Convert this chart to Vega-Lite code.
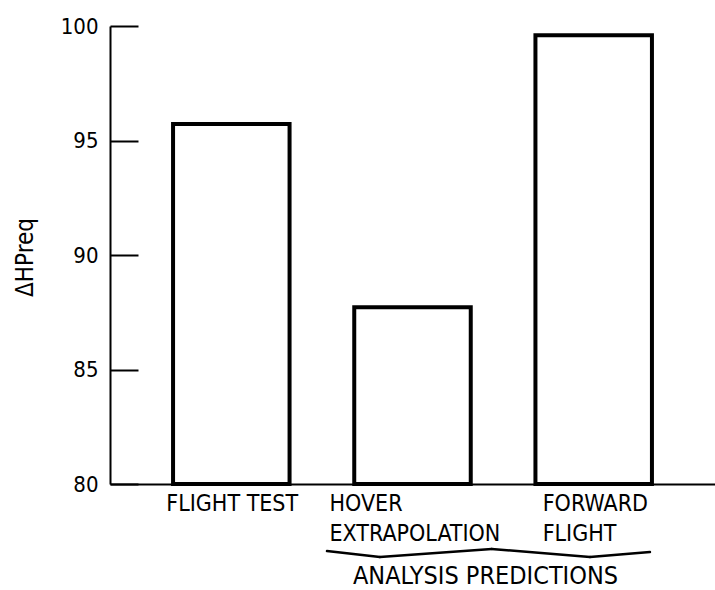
{
  "$schema": "https://vega.github.io/schema/vega-lite/v6.json",
  "width": 605,
  "height": 458,
  "autosize": "none",
  "padding": {"left": 110, "top": 26, "right": 0, "bottom": 106},
  "background": "white",
  "config": {
    "view": {"stroke": null},
    "font": "Liberation Sans Narrow, DejaVu Sans Condensed, Liberation Sans"
  },
  "layer": [
    {
      "data": {
        "values": [
          {"case": "FLIGHT TEST", "dhp": 95.72},
          {"case": "HOVER EXTRAPOLATION", "dhp": 87.72},
          {"case": "FORWARD FLIGHT", "dhp": 99.6}
        ]
      },
      "mark": {"type": "bar", "fill": "white", "stroke": "black", "strokeWidth": 4, "strokeJoin": "miter"},
      "encoding": {
        "x": {
          "field": "case",
          "type": "nominal",
          "sort": null,
          "scale": {"paddingInner": 0.357, "paddingOuter": 0.348},
          "axis": {
            "title": "ANALYSIS PREDICTIONS",
            "titleFontSize": 25,
            "titleFontWeight": "normal",
            "titleColor": "black",
            "titleX": 375,
            "titleY": 99,
            "titleAlign": "center",
            "titleBaseline": "alphabetic",
            "labelAngle": 0,
            "ticks": false,
            "domainColor": "black",
            "domainWidth": 2,
            "labelExpr": "datum.value == 'FLIGHT TEST' ? datum.value : split(datum.value, ' ')",
            "labelFontSize": 23,
            "labelLimit": 0,
            "labelColor": "black",
            "labelAlign": "left",
            "labelBaseline": "top",
            "labelPadding": 8,
            "labelLineHeight": 30,
            "labelOffset": {
              "condition": [
                {"test": "datum.value == 'HOVER EXTRAPOLATION'", "value": -83},
                {"test": "datum.value == 'FORWARD FLIGHT'", "value": -51}
              ],
              "value": -65
            }
          }
        },
        "y": {
          "field": "dhp",
          "type": "quantitative",
          "scale": {"domain": [80, 100], "nice": false, "zero": false},
          "axis": {
            "title": "ΔHPreq",
            "titleFontSize": 24,
            "titleFontWeight": "normal",
            "titleColor": "black",
            "titleAngle": -90,
            "titleX": -78,
            "titleY": 231,
            "titleAlign": "center",
            "titleBaseline": "alphabetic",
            "values": [80, 85, 90, 95, 100],
            "grid": false,
            "domainColor": "black",
            "domainWidth": 2,
            "tickColor": "black",
            "tickWidth": 2,
            "tickSize": -28,
            "labelPadding": 40,
            "labelFontSize": 22,
            "labelColor": "black"
          }
        },
        "y2": {"datum": 80}
      }
    },
    {
      "data": {"values": [{}]},
      "mark": {"type": "rule", "stroke": "black", "strokeWidth": 2.5, "strokeCap": "round"},
      "encoding": {
        "x": {"datum": "HOVER EXTRAPOLATION", "type": "nominal", "bandPosition": -0.234},
        "x2": {"datum": "HOVER EXTRAPOLATION", "bandPosition": 0.22},
        "y": {"datum": 77.07, "type": "quantitative"},
        "y2": {"datum": 76.81}
      }
    },
    {
      "data": {"values": [{}]},
      "mark": {"type": "rule", "stroke": "black", "strokeWidth": 2.5, "strokeCap": "round"},
      "encoding": {
        "x": {"datum": "HOVER EXTRAPOLATION", "type": "nominal", "bandPosition": 0.22},
        "x2": {"datum": "HOVER EXTRAPOLATION", "bandPosition": 1.18},
        "y": {"datum": 76.81, "type": "quantitative"},
        "y2": {"datum": 77.16}
      }
    },
    {
      "data": {"values": [{}]},
      "mark": {"type": "rule", "stroke": "black", "strokeWidth": 2.5, "strokeCap": "round"},
      "encoding": {
        "x": {"datum": "HOVER EXTRAPOLATION", "type": "nominal", "bandPosition": 1.18},
        "x2": {"datum": "FORWARD FLIGHT", "bandPosition": 0.468},
        "y": {"datum": 77.16, "type": "quantitative"},
        "y2": {"datum": 76.81}
      }
    },
    {
      "data": {"values": [{}]},
      "mark": {"type": "rule", "stroke": "black", "strokeWidth": 2.5, "strokeCap": "round"},
      "encoding": {
        "x": {"datum": "FORWARD FLIGHT", "type": "nominal", "bandPosition": 0.468},
        "x2": {"datum": "FORWARD FLIGHT", "bandPosition": 0.983},
        "y": {"datum": 76.81, "type": "quantitative"},
        "y2": {"datum": 77.03}
      }
    }
  ]
}
